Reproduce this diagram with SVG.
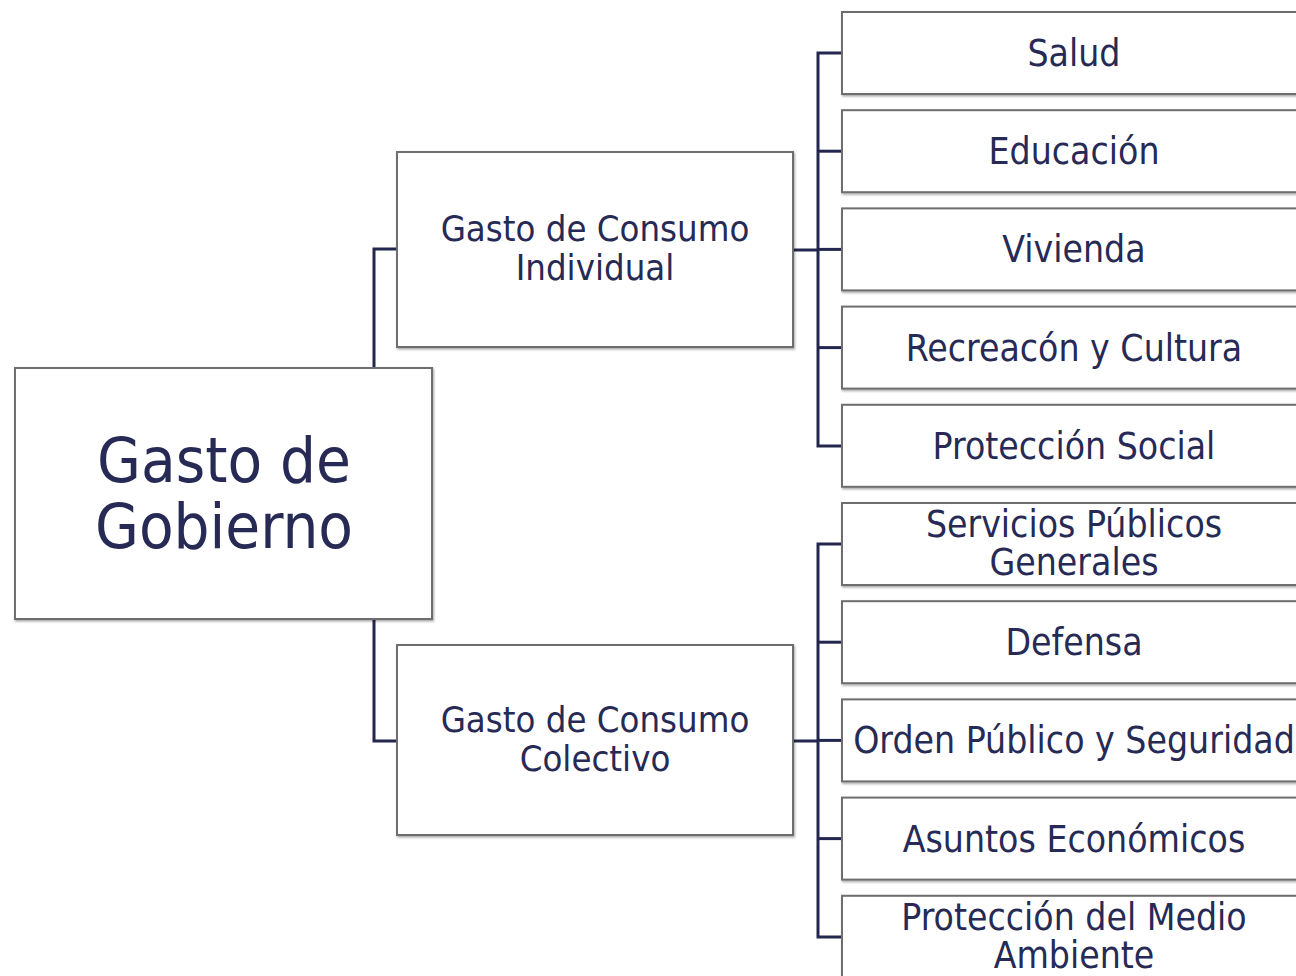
<svg xmlns="http://www.w3.org/2000/svg" width="1296" height="976" viewBox="0 0 1296 976">
  <defs>
    <filter id="sh" x="-5%" y="-5%" width="110%" height="115%">
      <feDropShadow dx="1" dy="1.5" stdDeviation="1" flood-color="#000" flood-opacity="0.35"/>
    </filter>
  </defs>
  <style>
    .box { fill: #ffffff; stroke: #6e6e6e; stroke-width: 2; filter: url(#sh); }
    .lbl { font-family: "DejaVu Sans Condensed", "DejaVu Sans", sans-serif; font-stretch: condensed; fill: #262a55; text-anchor: middle; }
    .big { font-size: 63px; }
    .mid { font-size: 36.2px; }
    .leaf { font-size: 37px; }
    .conn { fill: none; stroke: #23274f; stroke-width: 3; stroke-linejoin: miter; }
  </style>
  <rect width="1296" height="976" fill="#ffffff"/>

  <g id="connectors">
    <path class="conn" d="M374,368 V249 H397"/>
    <path class="conn" d="M374,619 V741 H397"/>
    <path class="conn" d="M793,250 H818"/>
    <path class="conn" d="M842,53 H818 V446 H842"/>
    <path class="conn" d="M818,151.2 H842"/>
    <path class="conn" d="M818,249.4 H842"/>
    <path class="conn" d="M818,347.6 H842"/>
    <path class="conn" d="M793,741 H818"/>
    <path class="conn" d="M842,544 H818 V937 H842"/>
    <path class="conn" d="M818,642.2 H842"/>
    <path class="conn" d="M818,740.4 H842"/>
    <path class="conn" d="M818,838.6 H842"/>
  </g>

  <g id="root">
    <rect class="box" x="15" y="368" width="417" height="251"/>
    <text class="lbl big" x="224" y="482">Gasto de</text>
    <text class="lbl big" x="224" y="548">Gobierno</text>
  </g>

  <g id="individual">
    <rect class="box" x="397" y="152" width="396" height="195"/>
    <text class="lbl mid" x="595" y="241">Gasto de Consumo</text>
    <text class="lbl mid" x="595" y="280">Individual</text>
  </g>

  <g id="colectivo">
    <rect class="box" x="397" y="645" width="396" height="190"/>
    <text class="lbl mid" x="595" y="732">Gasto de Consumo</text>
    <text class="lbl mid" x="595" y="771">Colectivo</text>
  </g>

  <g id="salud">
    <rect class="box" x="842" y="12" width="464" height="82"/>
    <text class="lbl leaf" x="1074" y="66">Salud</text>
  </g>
  <g id="educacion">
    <rect class="box" x="842" y="110.2" width="464" height="82"/>
    <text class="lbl leaf" x="1074" y="164">Educación</text>
  </g>
  <g id="vivienda">
    <rect class="box" x="842" y="208.4" width="464" height="82"/>
    <text class="lbl leaf" x="1074" y="262">Vivienda</text>
  </g>
  <g id="recreacion">
    <rect class="box" x="842" y="306.6" width="464" height="82"/>
    <text class="lbl leaf" x="1074" y="361">Recreacón y Cultura</text>
  </g>
  <g id="proteccion-social">
    <rect class="box" x="842" y="404.8" width="464" height="82"/>
    <text class="lbl leaf" x="1074" y="459">Protección Social</text>
  </g>
  <g id="servicios">
    <rect class="box" x="842" y="503" width="464" height="82"/>
    <text class="lbl leaf" x="1074" y="537">Servicios Públicos</text>
    <text class="lbl leaf" x="1074" y="575">Generales</text>
  </g>
  <g id="defensa">
    <rect class="box" x="842" y="601.2" width="464" height="82"/>
    <text class="lbl leaf" x="1074" y="655">Defensa</text>
  </g>
  <g id="orden">
    <rect class="box" x="842" y="699.4" width="464" height="82"/>
    <text class="lbl leaf" x="1074" y="753">Orden Público y Seguridad</text>
  </g>
  <g id="asuntos">
    <rect class="box" x="842" y="797.6" width="464" height="82"/>
    <text class="lbl leaf" x="1074" y="852">Asuntos Económicos</text>
  </g>
  <g id="medio-ambiente">
    <rect class="box" x="842" y="895.8" width="464" height="82"/>
    <text class="lbl leaf" x="1074" y="930">Protección del Medio</text>
    <text class="lbl leaf" x="1074" y="968">Ambiente</text>
  </g>
</svg>
